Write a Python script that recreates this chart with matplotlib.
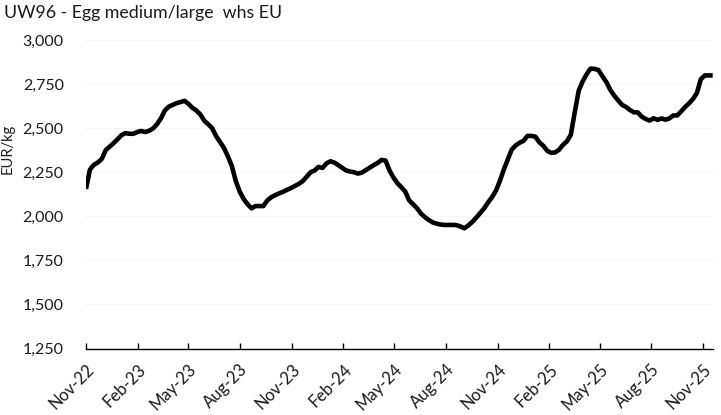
import matplotlib
matplotlib.use("Agg")
import matplotlib.pyplot as plt
import matplotlib.dates as mdates
import matplotlib.ticker as mticker
import numpy as np
import pandas as pd

title = "UW96 - Egg medium/large  whs EU"
y_label = "EUR/kg"
start_date = "2022-11-07"
y_ticks = [1250, 1500, 1750, 2000, 2250, 2500, 2750, 3000]

prices = [
    2155, 2265, 2292, 2305, 2325, 2375, 2395, 2415, 2437, 2460,
    2472, 2468, 2468, 2478, 2484, 2478, 2485, 2498, 2522, 2555,
    2600, 2622, 2632, 2642, 2648, 2655, 2638, 2615, 2600, 2578,
    2542, 2522, 2500, 2455, 2422, 2388, 2340, 2285, 2200, 2140,
    2098, 2068, 2045, 2058, 2058, 2058, 2090, 2108, 2120, 2130,
    2139, 2150, 2160, 2172, 2184, 2200, 2225, 2250, 2260, 2280,
    2274, 2300, 2312, 2305, 2290, 2275, 2260, 2254, 2250, 2242,
    2248, 2262, 2276, 2290, 2303, 2320, 2316, 2260, 2220, 2188,
    2165, 2140, 2090, 2068, 2045, 2015, 1995, 1978, 1965, 1958,
    1953, 1951, 1951, 1951, 1950, 1942, 1932, 1948, 1968, 1992,
    2018, 2045, 2078, 2108, 2145, 2200, 2265, 2322, 2378, 2402,
    2417, 2428, 2456, 2456, 2452, 2420, 2400, 2372, 2360, 2362,
    2377, 2405, 2425, 2462, 2590, 2712, 2765, 2805, 2838, 2836,
    2830, 2795, 2762, 2718, 2685, 2658, 2632, 2620, 2603, 2590,
    2589, 2565, 2552, 2543, 2556, 2547, 2555, 2548, 2555, 2572,
    2572, 2595, 2620, 2641, 2665, 2700, 2778, 2799, 2799, 2799,
]

dates = pd.date_range(start_date, periods=len(prices), freq="7D")

plt.rcParams["font.family"] = ["Lato", "DejaVu Sans"]
fig = plt.figure(figsize=(7.21, 4.15), dpi=100)
ax = fig.add_axes([86/721, 1 - 348.5/415, (712.7-86)/721, (348.5-40)/415])

ax.plot(dates, prices, color="black", lw=3.3, solid_joinstyle="round", solid_capstyle="butt")

ax.set_ylim(1250, 3000)
ax.set_yticks(y_ticks)
ax.yaxis.set_major_formatter(mticker.FuncFormatter(lambda v, p: f"{int(v):,}"))
ax.set_xlim(dates[0], dates[-1])
ax.xaxis.set_major_locator(mdates.MonthLocator(bymonth=(2, 5, 8, 11), bymonthday=7))
ax.xaxis.set_major_formatter(mdates.DateFormatter("%b-%y"))

ax.grid(axis="y", color="#f5f5f5", lw=0.8)
ax.set_axisbelow(True)
for s in ("top", "right", "left"):
    ax.spines[s].set_visible(False)
ax.spines["bottom"].set_color("black")
ax.spines["bottom"].set_linewidth(1.0)

ax.tick_params(axis="y", length=0, pad=16, labelsize=11.5, labelcolor="#1a1a1a")
ax.tick_params(axis="x", direction="in", length=4, width=1, pad=9, labelsize=12, labelcolor="#1a1a1a")
for lbl in ax.get_xticklabels():
    lbl.set_rotation(45)
    lbl.set_ha("right")
    lbl.set_va("top")
    lbl.set_rotation_mode("anchor")

fig.text(4/721, 1 - 13/415, title, fontsize=12.8, ha="left", va="center", color="#1a1a1a")
fig.text(8/721, 1 - 149/415, y_label, fontsize=10.5, rotation=90, ha="center", va="center", color="#1a1a1a")

fig.savefig("out.png", dpi=100, facecolor="white")
